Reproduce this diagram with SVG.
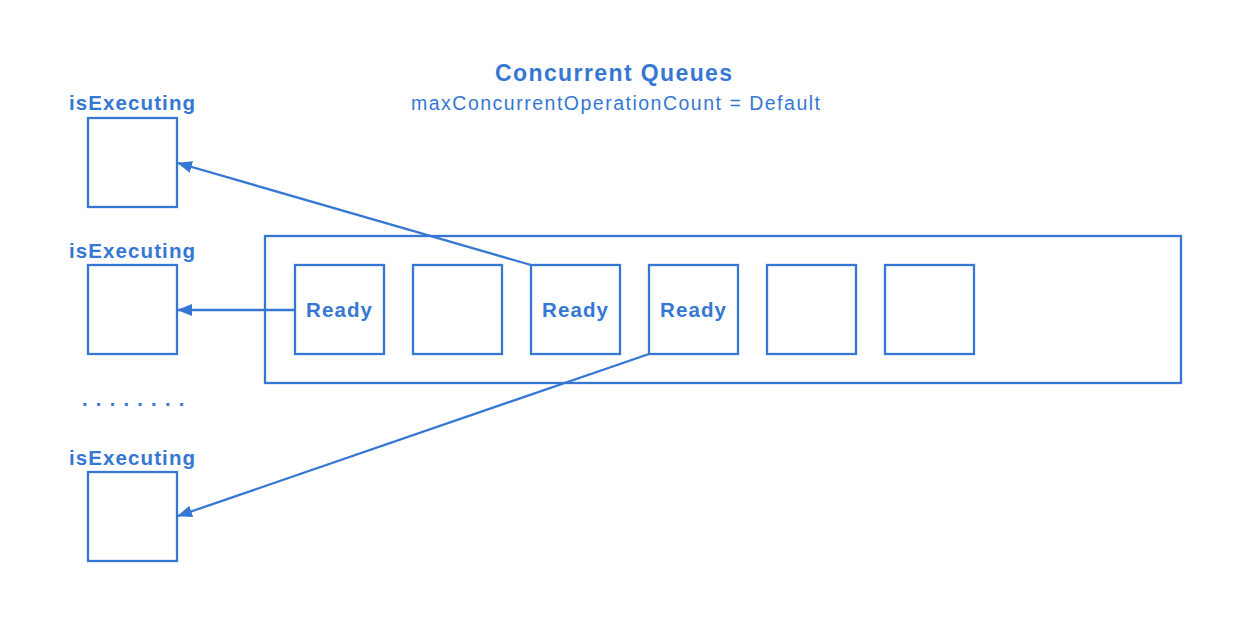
<svg xmlns="http://www.w3.org/2000/svg" width="1242" height="621" viewBox="0 0 1242 621">
<style>
.box{fill:#fff;stroke:#3577d2;stroke-width:2.3}
.lbl{font-family:"Liberation Sans",Arial,sans-serif;font-size:20.5px;font-weight:bold;fill:#3577d2;letter-spacing:1.1px}
.sub{font-family:"Liberation Sans",Arial,sans-serif;font-size:19.5px;fill:#3577d2;letter-spacing:1.5px}
.dots{font-family:"Liberation Sans",Arial,sans-serif;font-size:20px;font-weight:bold;fill:#3577d2;letter-spacing:1.35px}
.ttl{font-family:"Liberation Sans",Arial,sans-serif;font-size:23px;font-weight:bold;fill:#3577d2;letter-spacing:1.4px}
.conn{fill:none;stroke:#3577d2;stroke-width:2.3}
</style>
<defs>
<marker id="ah" viewBox="0 0 15 12" refX="14" refY="6" markerWidth="15" markerHeight="12" markerUnits="userSpaceOnUse" orient="auto">
<path d="M0,0 L15,6 L0,12 Z" fill="#3577d2"/>
</marker>
</defs>
<rect width="1242" height="621" fill="#fff"/>
<g id="title">
<text class="ttl" x="495" y="81">Concurrent Queues</text>
<text class="sub" x="411" y="110">maxConcurrentOperationCount = Default</text>
</g>
<g id="queue">
<rect class="box" x="265" y="236" width="916" height="147"/>
</g>
<g id="exec1">
<text class="lbl" x="69" y="110">isExecuting</text>
<rect class="box" x="88" y="118" width="89" height="89"/>
</g>
<g id="exec2">
<text class="lbl" x="69" y="258">isExecuting</text>
<rect class="box" x="88" y="265" width="89" height="89"/>
</g>
<g id="dots">
<text class="dots" x="82" y="406">. . . . . . . .</text>
</g>
<g id="exec3">
<text class="lbl" x="69" y="465">isExecuting</text>
<rect class="box" x="88" y="472" width="89" height="89"/>
</g>
<g id="op1"><rect class="box" x="295" y="265" width="89" height="89"/><text class="lbl" x="306" y="317">Ready</text></g>
<g id="op2"><rect class="box" x="413" y="265" width="89" height="89"/></g>
<g id="op3"><rect class="box" x="531" y="265" width="89" height="89"/><text class="lbl" x="542" y="317">Ready</text></g>
<g id="op4"><rect class="box" x="649" y="265" width="89" height="89"/><text class="lbl" x="660" y="317">Ready</text></g>
<g id="op5"><rect class="box" x="767" y="265" width="89" height="89"/></g>
<g id="op6"><rect class="box" x="885" y="265" width="89" height="89"/></g>
<g id="connectors">
<line class="conn" x1="531" y1="265" x2="178" y2="163" marker-end="url(#ah)"/>
<line class="conn" x1="295" y1="310" x2="178" y2="310" marker-end="url(#ah)"/>
<line class="conn" x1="649" y1="354" x2="178" y2="516" marker-end="url(#ah)"/>
</g>
</svg>
